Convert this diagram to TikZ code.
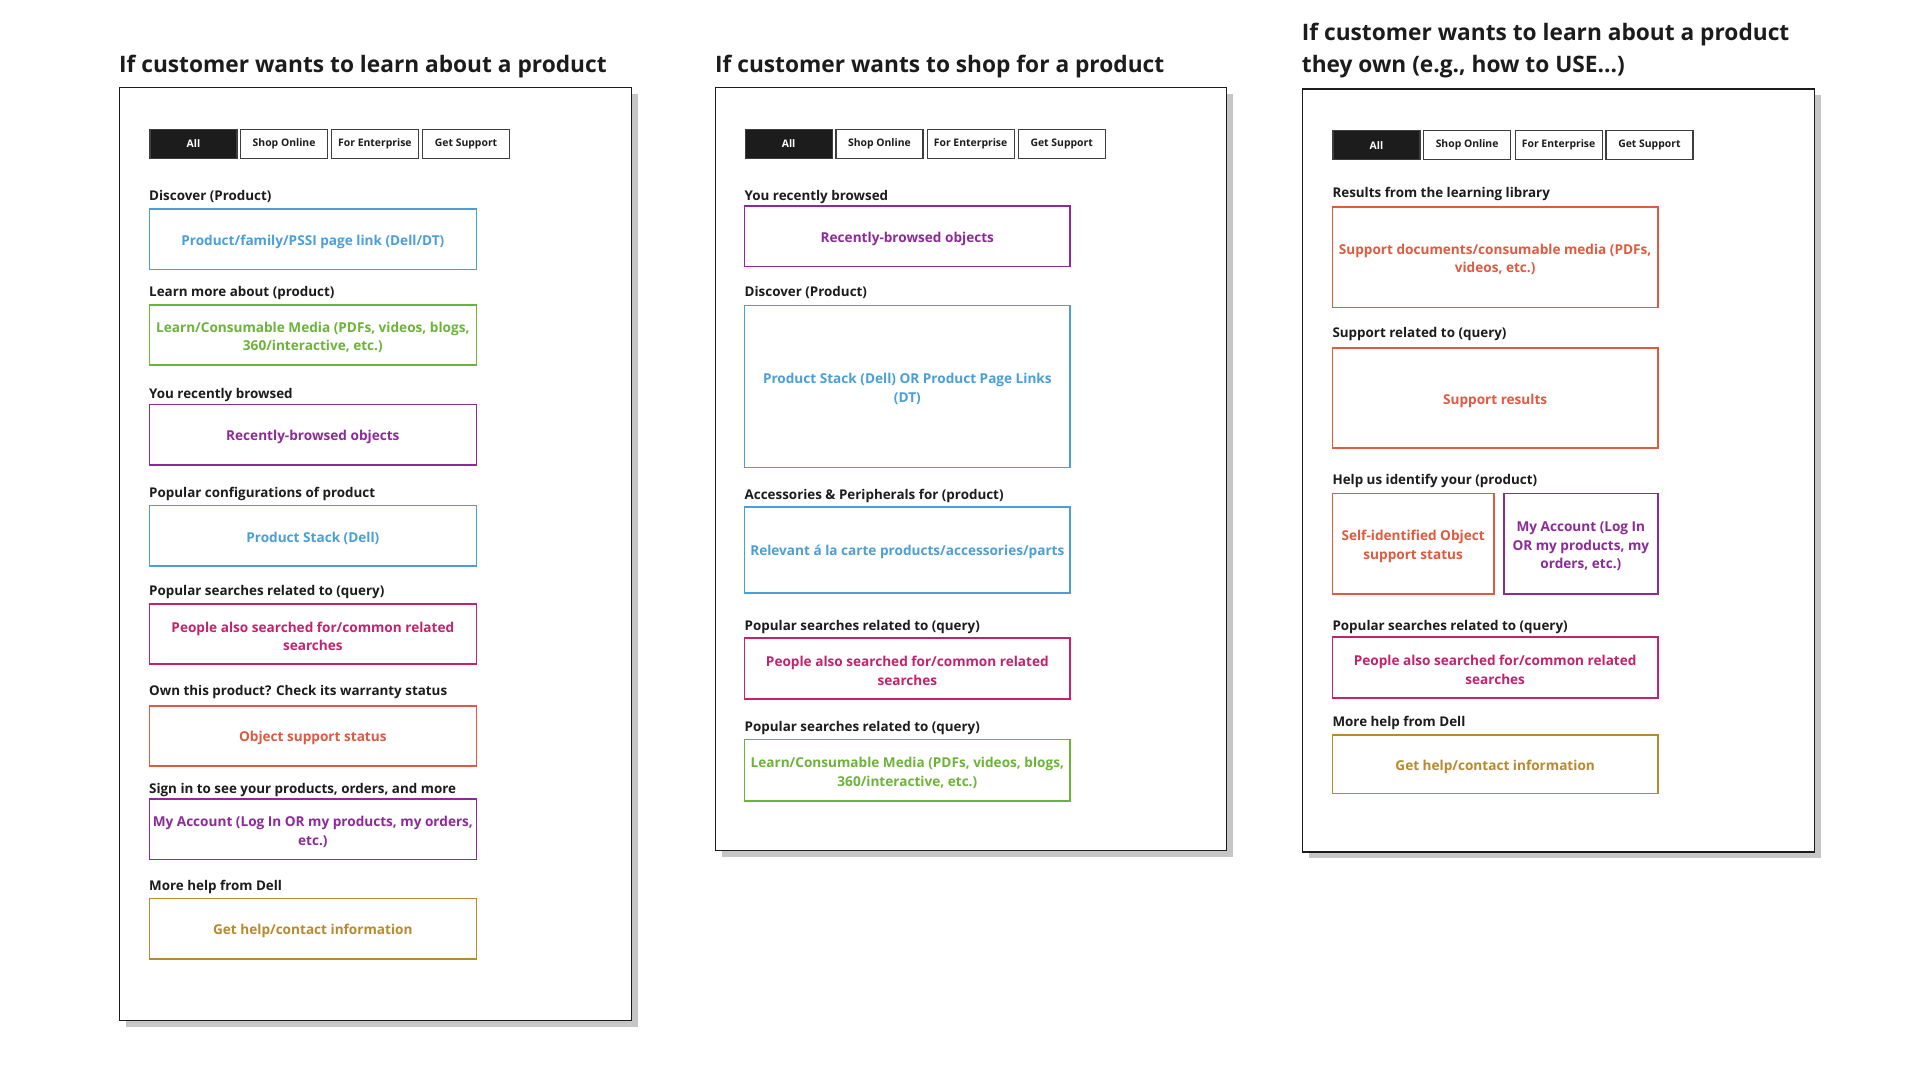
\documentclass[tikz,border=0pt]{standalone}
\usepackage{fontspec}
\setmainfont{Open Sans}
\newcommand{\fsH}{22.7}\newcommand{\fsL}{13.4}\newcommand{\fsB}{13.6}\newcommand{\fsT}{10.4}
\definecolor{cblue}{HTML}{4A9FD8}
\definecolor{cgreen}{HTML}{6CB33A}
\definecolor{cpurple}{HTML}{8C2A99}
\definecolor{cmag}{HTML}{C4226C}
\definecolor{corange}{HTML}{DE5A40}
\definecolor{cgold}{HTML}{B8892E}
\definecolor{cink}{HTML}{1C1C1C}
\definecolor{cshadow}{HTML}{C6C6C6}
\tikzset{
  x=1pt, y=-1pt,
  heading/.style={anchor=base west, inner sep=0pt, font=\fontsize{\fsH}{32}\selectfont\bfseries, text=cink, align=left},
  lbl/.style={anchor=base west, inner sep=0pt, font=\fontsize{\fsL}{17}\selectfont\bfseries, text=cink},
  cbox/.style={draw=#1, line width=1.6pt, fill=white, inner sep=0pt},
  ctext/.style={text=#1, inner sep=0pt, align=center, font=\fontsize{\fsB}{18.5}\selectfont\bfseries},
  tab/.style={draw=cink!85, line width=1.2pt, fill=white, text=cink, minimum width=87pt, minimum height=29.4pt,
    anchor=north west, inner sep=0pt, font=\fontsize{\fsT}{12}\selectfont\bfseries},
  taball/.style={tab, fill=cink, text=white},
  frame/.style={draw=cink, line width=1.4pt, fill=white, anchor=north west, inner sep=0pt},
  shadowbox/.style={fill=cshadow, draw=none, anchor=north west, inner sep=0pt},
}
\newcommand{\mybox}[7]{% name, color, x1, y1, x2, y2, text
  \node[cbox=#2, minimum width={#5-#3}, minimum height={#6-#4}] (#1) at ({(#3+#5)/2},{(#4+#6)/2}) {};
  \node[ctext=#2] (#1t) at ([yshift=-2.5pt]#1.center) {#7};}
\begin{document}
\begin{tikzpicture}
\useasboundingbox[fill=white] (0,0) rectangle (1920,1080);

% ================= Panel 1 =================
\node[heading] (h1) at (119,72) {If customer wants to learn about a product};
\node[shadowbox, minimum width=512pt, minimum height=933pt] (s1) at (126,94) {};
\node[frame, minimum width=512pt, minimum height=933pt] (f1) at (119,87) {};
\node[taball] (p1t1) at (149.4,128.6) {All};
\node[tab] (p1t2) at (240,128.6) {Shop Online};
\node[tab] (p1t3) at (330.8,128.6) {For Enterprise};
\node[tab] (p1t4) at (422,128.6) {Get Support};

\node[lbl] (p1l1) at (149,200.5) {Discover (Product)};
\mybox{p1b1}{cblue}{149.4}{209}{476.3}{269.3}{Product/family/PSSI page link (Dell/DT)}
\node[lbl] (p1l2) at (149,296.7) {Learn more about (product)};
\mybox{p1b2}{cgreen}{149.4}{305}{476.3}{365}{Learn/Consumable Media (PDFs, videos, blogs,\\360/interactive, etc.)}
\node[lbl] (p1l3) at (149,398) {You recently browsed};
\mybox{p1b3}{cpurple}{149.4}{404.3}{476.3}{464.7}{Recently-browsed objects}
\node[lbl] (p1l4) at (149,497.3) {Popular configurations of product};
\mybox{p1b4}{cblue}{149.4}{505.3}{476.3}{565.7}{Product Stack (Dell)}
\node[lbl] (p1l5) at (149,595) {Popular searches related to (query)};
\mybox{p1b5}{cmag}{149.4}{603.7}{476.3}{663.7}{People also searched for/common related\\searches}
\node[lbl] (p1l6) at (149,695) {Own this product? Check its warranty status};
\mybox{p1b6}{corange}{149.4}{705.7}{476.3}{766}{Object support status}
\node[lbl] (p1l7) at (149,793.3) {Sign in to see your products, orders, and more};
\mybox{p1b7}{cpurple}{149.4}{799}{476.3}{859.3}{My Account (Log In OR my products, my orders,\\etc.)}
\node[lbl] (p1l8) at (149,890) {More help from Dell};
\mybox{p1b8}{cgold}{149.4}{898.3}{476.3}{958.7}{Get help/contact information}

% ================= Panel 2 =================
\node[heading] (h2) at (715,72) {If customer wants to shop for a product};
\node[shadowbox, minimum width=511pt, minimum height=763pt] (s2) at (722,94) {};
\node[frame, minimum width=511pt, minimum height=763pt] (f2) at (715,87) {};
\node[taball] (p2t1) at (744.5,128.6) {All};
\node[tab] (p2t2) at (835.3,128.6) {Shop Online};
\node[tab] (p2t3) at (926.5,128.6) {For Enterprise};
\node[tab] (p2t4) at (1017.6,128.6) {Get Support};

\node[lbl] (p2l1) at (744.5,200) {You recently browsed};
\mybox{p2b1}{cpurple}{744.5}{205.7}{1070.2}{266.3}{Recently-browsed objects}
\node[lbl] (p2l2) at (744.5,296.7) {Discover (Product)};
\mybox{p2b2}{cblue}{744.5}{305.3}{1070.2}{467.5}{Product Stack (Dell) OR Product Page Links\\(DT)}
\node[lbl] (p2l3) at (744.5,499) {Accessories \& Peripherals for (product)};
\mybox{p2b3}{cblue}{744.5}{507}{1070.2}{592.7}{Relevant á la carte products/accessories/parts}
\node[lbl] (p2l4) at (744.5,630) {Popular searches related to (query)};
\mybox{p2b4}{cmag}{744.5}{638}{1070.2}{699}{People also searched for/common related\\searches}
\node[lbl] (p2l5) at (744.5,731.8) {Popular searches related to (query)};
\mybox{p2b5}{cgreen}{744.5}{739.6}{1070.2}{800.8}{Learn/Consumable Media (PDFs, videos, blogs,\\360/interactive, etc.)}

% ================= Panel 3 =================
\node[heading] (h3) at (1301.7,72.7) {If customer wants to learn about a product\\they own (e.g., how to USE...)};
\node[shadowbox, minimum width=512pt, minimum height=763pt] (s3) at (1308.6,95.2) {};
\node[frame, minimum width=512pt, minimum height=763pt] (f3) at (1301.6,88.2) {};
\node[taball] (p3t1) at (1332.3,129.8) {All};
\node[tab] (p3t2) at (1423,129.8) {Shop Online};
\node[tab] (p3t3) at (1514.5,129.8) {For Enterprise};
\node[tab] (p3t4) at (1605.3,129.8) {Get Support};

\node[lbl] (p3l1) at (1332.3,197.9) {Results from the learning library};
\mybox{p3b1}{corange}{1332.3}{207}{1658}{307.3}{Support documents/consumable media (PDFs,\\videos, etc.)}
\node[lbl] (p3l2) at (1332.3,337.5) {Support related to (query)};
\mybox{p3b2}{corange}{1332.3}{347.8}{1658}{448.2}{Support results}
\node[lbl] (p3l3) at (1332.3,484.4) {Help us identify your (product)};
\mybox{p3b3}{corange}{1332.3}{493.5}{1494}{593.9}{Self-identified Object\\support status}
\mybox{p3b4}{cpurple}{1503.7}{493.5}{1658}{593.9}{My Account (Log In\\OR my products, my\\orders, etc.)}
\node[lbl] (p3l4) at (1332.3,630.1) {Popular searches related to (query)};
\mybox{p3b5}{cmag}{1332.3}{636.7}{1658}{698}{People also searched for/common related\\searches}
\node[lbl] (p3l5) at (1332.3,726.9) {More help from Dell};
\mybox{p3b6}{cgold}{1332.3}{734.7}{1658}{793.5}{Get help/contact information}
\end{tikzpicture}
\end{document}
